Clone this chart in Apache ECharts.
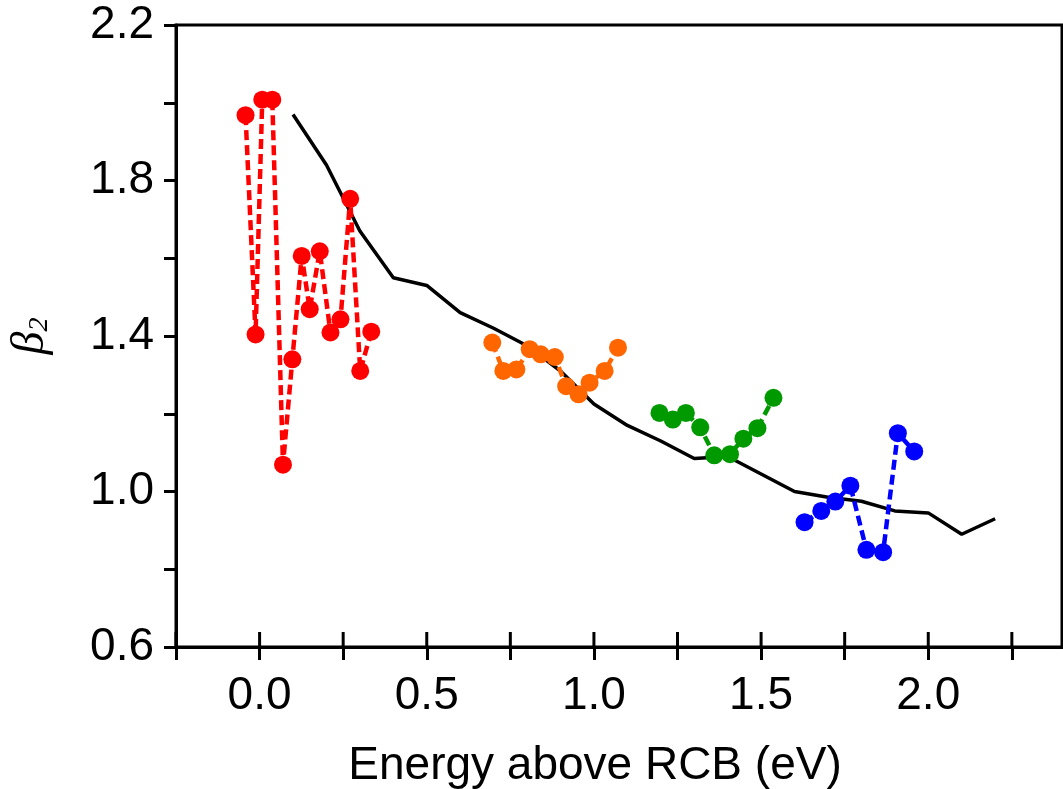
<!DOCTYPE html>
<html>
<head>
<meta charset="utf-8">
<script src="https://cdn.jsdelivr.net/npm/echarts@6/dist/echarts.min.js"></script>
<style>
html,body{margin:0;padding:0;background:#fff;}
#chart{width:1063px;height:789px;}
</style>
</head>
<body>
<div id="chart"></div>
<script>
// ---- data ----
var theoryX = [0.1,0.2,0.3,0.4,0.5,0.6,0.7,0.8,0.9,1.0,1.1,1.2,1.3,1.4,1.5,1.6,1.7,1.8,1.9,2.0,2.1,2.2];
var theoryY = [1.97,1.84,1.67,1.55,1.53,1.46,1.42,1.375,1.31,1.225,1.17,1.13,1.085,1.09,1.045,1.0,0.985,0.975,0.95,0.945,0.89,0.93];

var redX = [-0.042,-0.012,0.008,0.038,0.070,0.098,0.126,0.150,0.180,0.212,0.242,0.271,0.301,0.334];
var redY = [1.968,1.404,2.008,2.008,1.069,1.340,1.606,1.469,1.618,1.409,1.443,1.753,1.310,1.411];

var orangeX = [0.696,0.729,0.768,0.808,0.841,0.883,0.917,0.954,0.987,1.032,1.072];
var orangeY = [1.383,1.310,1.314,1.366,1.353,1.346,1.271,1.250,1.280,1.310,1.370];

var greenX = [1.196,1.236,1.275,1.318,1.360,1.407,1.447,1.489,1.537];
var greenY = [1.202,1.185,1.202,1.165,1.093,1.096,1.136,1.163,1.241];

var blueX = [1.630,1.680,1.722,1.767,1.815,1.865,1.909,1.958];
var blueY = [0.921,0.950,0.974,1.015,0.850,0.844,1.150,1.103];

var xTickLabels = ['0.0','0.5','1.0','1.5','2.0'];
var yTickLabels = ['0.6','1.0','1.4','1.8','2.2'];
var xTitle = 'Energy above RCB (eV)';

var X_MIN = -0.25, X_MAX = 2.4, X_STEP = 0.25;
var Y_MIN = 0.6, Y_MAX = 2.2, Y_STEP = 0.2;

function pairs(xs, ys){ return xs.map(function(x,i){ return [x, ys[i]]; }); }

var FONT = '"Liberation Sans", Arial, sans-serif';

function xLabelFmt(v){
  var s = (Math.round(v*100)/100).toFixed(1);
  if (s === '-0.0') s = '0.0';
  return xTickLabels.indexOf(s) >= 0 && Math.abs(v*2 - Math.round(v*2)) < 1e-6 ? s : '';
}
function yLabelFmt(v){
  var s = (Math.round(v*100)/100).toFixed(1);
  return yTickLabels.indexOf(s) >= 0 ? s : '';
}

function dashed(name, xs, ys, color){
  return {
    name: name, type: 'line', data: pairs(xs, ys),
    symbol: 'circle', symbolSize: 18,
    itemStyle: { color: color },
    lineStyle: { color: color, width: 4.5, type: [10, 5] },
    z: 3
  };
}

var titleGraphic = {
  id: 'xtitle', type: 'text', x: 595, y: 766,
  style: { text: xTitle, fontSize: 46, fontFamily: FONT, fill: '#000', align: 'center', verticalAlign: 'middle' }
};

var chart = echarts.init(document.getElementById('chart'), null, {renderer:'canvas'});
chart.setOption({
  animation: false,
  backgroundColor: '#fff',
  grid: { left: 174, right: 1, top: 25, bottom: 142, show: true, borderColor: '#000', borderWidth: 3, backgroundColor: 'transparent' },
  xAxis: [{
    type: 'value', min: X_MIN, max: X_MAX, interval: X_STEP, position: 'bottom',
    axisLine: { show: true, onZero: false, lineStyle: { color: '#000', width: 3 } },
    axisTick: { show: true, inside: false, length: 13, lineStyle: { color: '#000', width: 3 } },
    axisLabel: { formatter: xLabelFmt, color: '#000', fontSize: 46, fontFamily: FONT, margin: 26, showMinLabel: true, showMaxLabel: false },
    splitLine: { show: false }
  }],
  yAxis: [{
    type: 'value', min: Y_MIN, max: Y_MAX, interval: Y_STEP, position: 'left',
    axisLine: { show: true, onZero: false, lineStyle: { color: '#000', width: 3 } },
    axisTick: { show: true, inside: false, length: 12, lineStyle: { color: '#000', width: 3 } },
    axisLabel: { formatter: yLabelFmt, color: '#000', fontSize: 46, fontFamily: FONT, margin: 22, showMinLabel: true, showMaxLabel: true },
    splitLine: { show: false },
    name: '{b|β}{s|2}', nameLocation: 'middle', nameRotate: 90, nameGap: 122,
    nameTextStyle: {
      rich: {
        b: { fontSize: 46, fontStyle: 'italic', fontFamily: '"Liberation Serif", "DejaVu Serif", serif', color: '#000' },
        s: { fontSize: 28, fontStyle: 'italic', fontFamily: '"Liberation Serif", "DejaVu Serif", serif', color: '#000', verticalAlign: 'bottom', padding: [18, 0, 0, 0] }
      }
    }
  }],
  graphic: [titleGraphic],
  series: [
    { name: 'theory', type: 'line', data: pairs(theoryX, theoryY), symbol: 'none',
      lineStyle: { color: '#000', width: 3.5 }, z: 2 },
    dashed('red', redX, redY, '#ff0000'),
    dashed('orange', orangeX, orangeY, '#ff6600'),
    dashed('green', greenX, greenY, '#009900'),
    dashed('blue', blueX, blueY, '#0000ff')
  ]
});

// inner halves of the x-axis ticks (ticks cross the axis), placed via the axis scale
var innerTicks = [];
var baseY = chart.convertToPixel({ yAxisIndex: 0 }, Y_MIN);
for (var k = 0; X_MIN + k * X_STEP <= X_MAX + 1e-9; k++) {
  var v = X_MIN + k * X_STEP;
  var px = chart.convertToPixel({ xAxisIndex: 0 }, v);
  innerTicks.push({
    id: 'itick' + k, type: 'line', z: 10,
    shape: { x1: px, y1: baseY - 15, x2: px, y2: baseY },
    style: { stroke: '#000', lineWidth: 3 }
  });
}
chart.setOption({ graphic: [titleGraphic].concat(innerTicks) });
</script>
</body>
</html>
